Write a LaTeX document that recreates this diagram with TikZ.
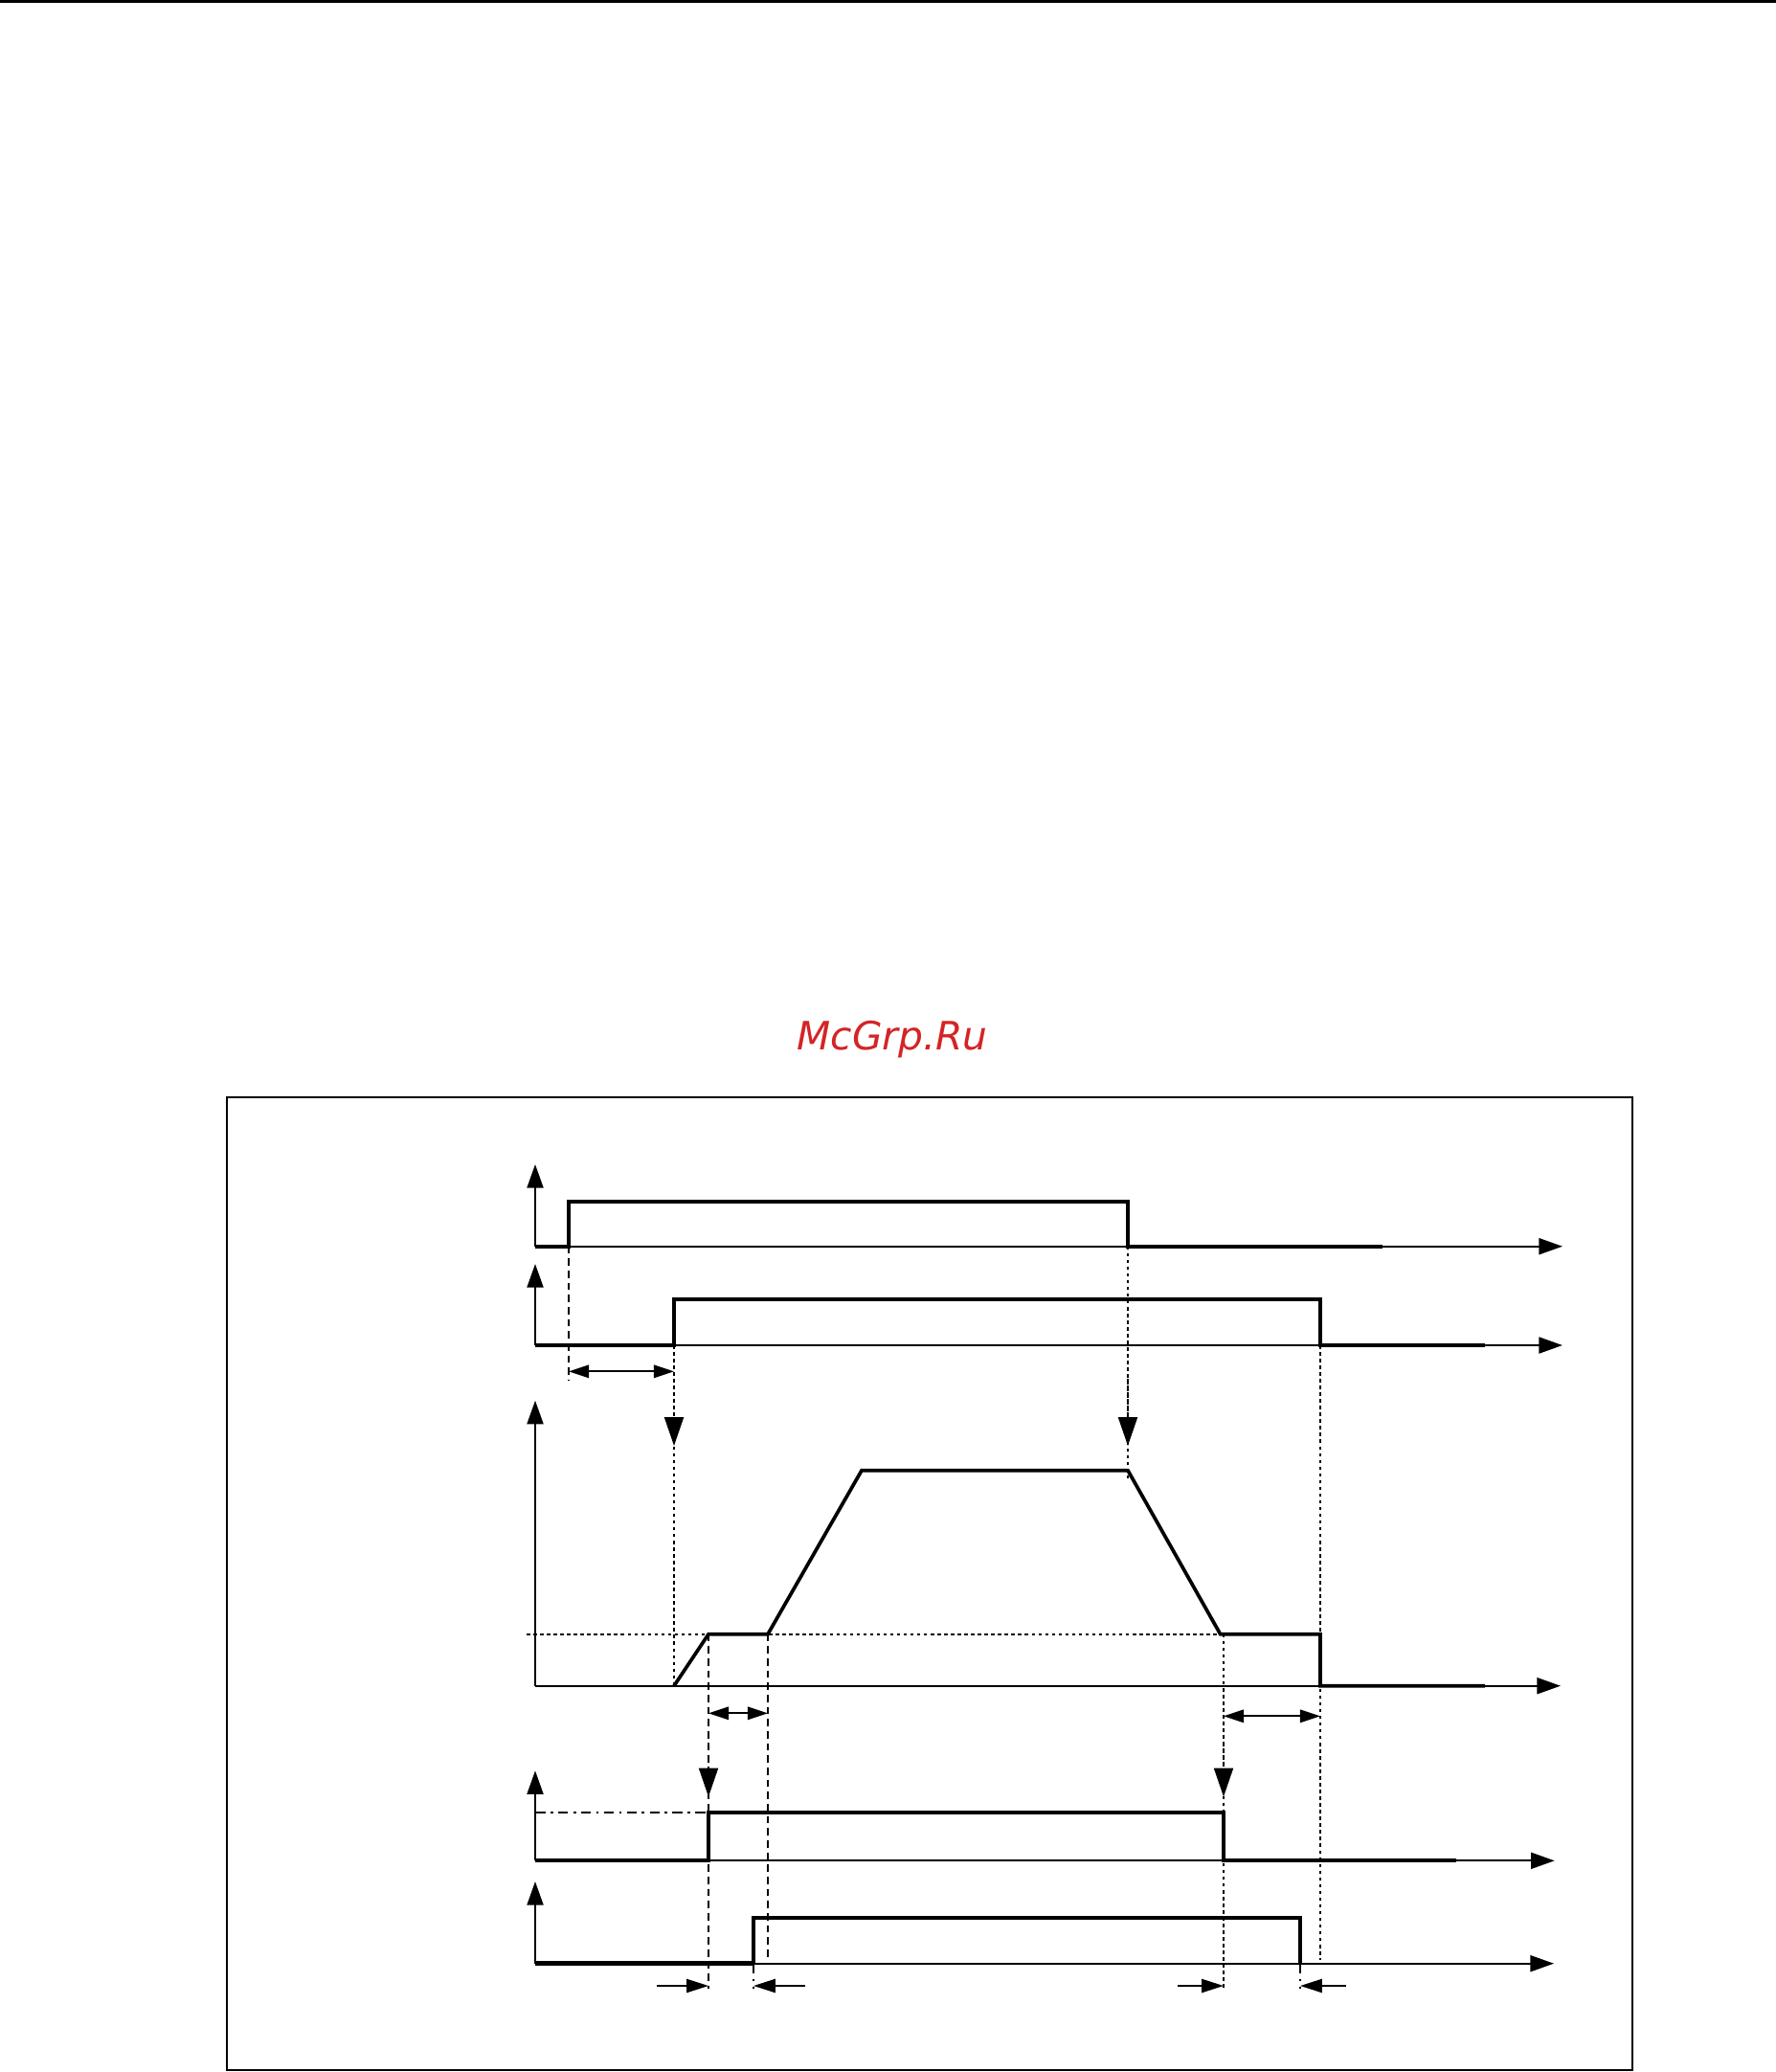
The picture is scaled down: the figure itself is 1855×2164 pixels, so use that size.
\documentclass[tikz,border=0pt]{standalone}
\usepackage{fontspec}
\newfontfamily\markfont{DejaVu Sans}
\usepackage{tikz}
\usetikzlibrary{arrows.meta}
\definecolor{markred}{RGB}{212,36,38}

\begin{document}
\begin{tikzpicture}[x=0.01cm,y=-0.01cm,>={Triangle[length=7pt,width=4.8pt]},
			sig/.style={line width=1.05pt,line join=miter},
			axis/.style={line width=0.65pt,->},
			dotguide/.style={line width=0.5pt,dash pattern=on 1pt off 1pt},
			dashguide/.style={line width=0.5pt,dash pattern=on 2.2pt off 1.4pt},
			dashdot/.style={line width=0.6pt,dash pattern=on 3pt off 1.5pt on 0.8pt off 1.5pt},
			gap/.style={line width=0.6pt,{Triangle[length=6pt,width=3.8pt]}-{Triangle[length=6pt,width=3.8pt]}},
			down/.style={-{Triangle[length=8.5pt,width=5.7pt]}},
			stopper/.style={line width=0.6pt,-{Triangle[length=6.5pt,width=4pt]}},
			]
			% page
			\useasboundingbox (0,0) rectangle (1855,2164);
			\draw[line width=0.85pt] (0,1.5)--(1855,1.5);
			\node[text=markred,font=\markfont\itshape\fontsize{11.6}{14}\selectfont,anchor=base] (mark) at (932,1096.7) {McGrp.Ru};
			\draw[line width=0.6pt] (237,1146) rectangle (1705,2162);
			
			% time marks
			\def\xo{559}
			\def\tA{594}
			\def\tB{704}
			\def\tC{740}
			\def\tS{787}
			\def\tD{802}
			\def\tE{900}
			\def\tF{1178}
			\def\tG{1278}
			\def\tR{1358}
			\def\tH{1379}
			
			% row 1
			\coordinate (O1) at (\xo,1301.7);
			\draw[axis] (O1)--(\xo,1216);
			\draw[axis] (O1)--(1632,1301.7);
			\draw[sig] (O1)--(\tA,1301.7)--(\tA,1255)--(\tF,1255)--(\tF,1301.7)--(1444,1301.7);
			
			% row 2
			\coordinate (O2) at (\xo,1405);
			\draw[axis] (O2)--(\xo,1320);
			\draw[axis] (O2)--(1632,1405);
			\draw[sig] (O2)--(\tB,1405)--(\tB,1357)--(\tH,1357)--(\tH,1405)--(1551,1405);
			\draw[dashguide] (\tA,1301.7)--(\tA,1441);
			\draw[gap] (\tA,1432.3)--(\tB,1432.3);
			
			% row 3 (speed)
			\coordinate (O3) at (\xo,1760.7);
			\draw[dotguide] (550,1706.7)--(\tH,1706.7);
			\draw[axis] (O3)--(\xo,1462.7);
			\draw[axis] (O3)--(1630,1760.7);
			\draw[sig] (\tB,1760.7)--(\tC,1706.7)--(\tD,1706.7)--(\tE,1535.7)--(\tF,1535.7)
			--(1274.6,1706.7)--(\tH,1706.7)--(\tH,1760.7)--(1551,1760.7);
			\draw[dotguide] (\tB,1405)--(\tB,1760.7);
			\draw[dotguide,down] (\tB,1440)--(\tB,1510);
			\draw[dotguide] (\tF,1301.7)--(\tF,1547);
			\draw[dotguide,down] (\tF,1440)--(\tF,1510);
			\draw[gap] (\tC,1789.3)--(\tD,1789.3);
			\draw[gap] (\tG,1792.3)--(\tH,1792.3);
			
			% row 4
			\coordinate (O4) at (\xo,1943.3);
			\draw[dashdot] (\xo,1893.3)--(\tC,1893.3);
			\draw[axis] (O4)--(\xo,1849.3);
			\draw[axis] (O4)--(1623.7,1943.3);
			\draw[sig] (O4)--(\tC,1943.3)--(\tC,1893.3)--(\tG,1893.3)--(\tG,1943.3)--(1521,1943.3);
			\draw[dashguide] (\tC,1706.7)--(\tC,2077);
			\draw[dashguide,down] (\tC,1820)--(\tC,1876.5);
			\draw[dashguide] (\tD,1706.7)--(\tD,2047);
			\draw[dotguide] (\tG,1706.7)--(\tG,2077);
			\draw[dotguide,down] (\tG,1820)--(\tG,1876.5);
			\draw[dotguide] (\tH,1405)--(\tH,2047);
			
			% row 5
			\coordinate (O5) at (\xo,2050.7);
			\draw[axis] (O5)--(\xo,1965);
			\draw[axis] (O5)--(1623,2050.7);
			\draw[line width=1.3pt] (O5)--(\tS,2050.7);
			\draw[sig] (\tS,2050.7)--(\tS,2002.7)--(\tR,2002.7)--(\tR,2050.7);
			\draw[dashdot] (\tS,2050.7)--(\tS,2077);
			\draw[dashdot] (\tR,2050.7)--(\tR,2077);
			
			% delays at the bottom
			\draw[stopper] (686,2074)--(\tC,2074);
			\draw[stopper] (840.5,2074)--(\tS,2074);
			\draw[stopper] (1230,2074)--(\tG,2074);
			\draw[stopper] (1405.7,2074)--(\tR,2074);
		\end{tikzpicture}
\end{document}
